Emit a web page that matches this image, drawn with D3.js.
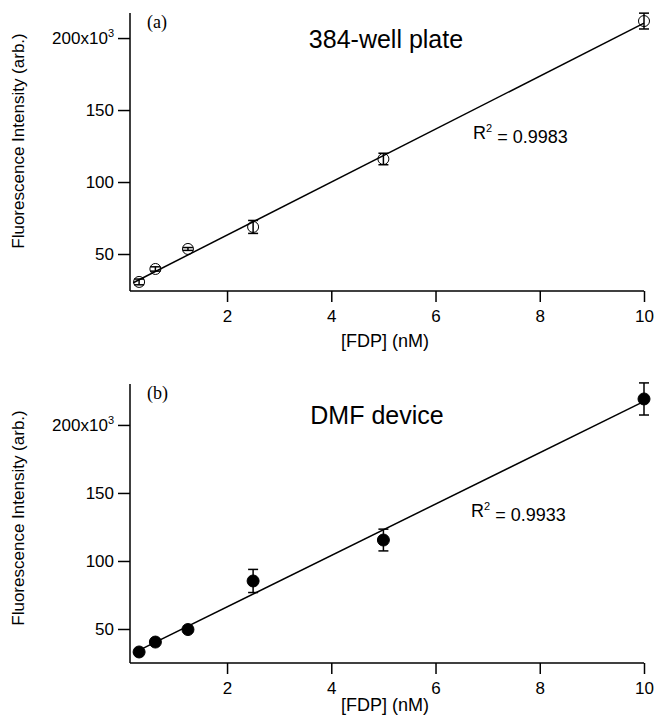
<!DOCTYPE html>
<html>
<head>
<meta charset="utf-8">
<script src="https://cdn.jsdelivr.net/npm/d3@7"></script>
<style>
  html, body { margin: 0; padding: 0; background: #fff; }
  svg text { font-family: "Liberation Sans", Arial, sans-serif; fill: #000; }
</style>
</head>
<body>
<svg id="chart" width="655" height="723"></svg>
<script>
// ---- data ----
const concentrations = [0.3125, 0.625, 1.25, 2.5, 5, 10];   // [FDP] (nM)
const plateValues   = [30.6, 39.6, 53.5, 68.8, 116.0, 211.8]; // x10^3
const plateErrors   = [2.0, 1.5, 1.0, 4.5, 4.0, 5.5];
const dmfValues     = [33.1, 40.4, 49.6, 85.3, 115.4, 219.1];
const dmfErrors     = [1.5, 1.0, 1.5, 8.5, 8.0, 11.8];
const xTicks = [2, 4, 6, 8, 10];
const yTicks = [50, 100, 150, 200];
const panelLabels = ["(a)", "(b)"];
const panelTitles = ["384-well plate", "DMF device"];
const r2Values = ["0.9983", "0.9933"];
const fitRange = [0.2, 10];

const svg = d3.select("#chart");

function linfit(xs, ys) {
  const n = xs.length;
  const mx = d3.mean(xs), my = d3.mean(ys);
  let sxy = 0, sxx = 0;
  for (let i = 0; i < n; i++) { sxy += (xs[i]-mx)*(ys[i]-my); sxx += (xs[i]-mx)**2; }
  const m = sxy / sxx;
  return { m, b: my - m*mx };
}

const panels = [
  { top: 13, bottom: 291, yDomain: [24.3, 217.4], values: plateValues, errors: plateErrors,
    filled: false, r: 5.5, label: panelLabels[0], title: panelTitles[0], r2: r2Values[0],
    labelPos: [147, 28], titlePos: [386, 48], r2Pos: [473, 139], yTitleY: 141, xTitleY: 347 },
  { top: 384, bottom: 663, yDomain: [25, 230.1], values: dmfValues, errors: dmfErrors,
    filled: true, r: 6, label: panelLabels[1], title: panelTitles[1], r2: r2Values[1],
    labelPos: [147, 399], titlePos: [377, 424], r2Pos: [471, 517], yTitleY: 518, xTitleY: 711 }
];

const left = 130, right = 644;
const tickFont = 17;

panels.forEach(p => {
  const x = d3.scaleLinear().domain([0.138, 10]).range([left, right]);
  const y = d3.scaleLinear().domain(p.yDomain).range([p.bottom, p.top]);
  const g = svg.append("g");

  // x axis
  const xa = g.append("g").attr("transform", `translate(0,${p.bottom})`)
    .call(d3.axisBottom(x).tickValues(xTicks).tickSize(11).tickPadding(8).tickFormat(d3.format("d")));
  xa.select(".domain").attr("d", `M${left},0H${right}`).attr("stroke-width", 1.5);
  xa.selectAll(".tick line").attr("stroke-width", 1.5);
  xa.selectAll("text").attr("font-size", tickFont).attr("font-family", "Liberation Sans, Arial, sans-serif");

  // y axis
  const ya = g.append("g").attr("transform", `translate(${left},0)`)
    .call(d3.axisLeft(y).tickValues(yTicks).tickSize(12).tickPadding(4).tickFormat(d => d === 200 ? "" : d));
  ya.select(".domain").attr("d", `M0,${p.top}V${p.bottom}`).attr("stroke-width", 1.5);
  ya.selectAll(".tick line").attr("stroke-width", 1.5);
  ya.selectAll("text").attr("font-size", tickFont).attr("font-family", "Liberation Sans, Arial, sans-serif");
  // 200x10^3 label
  const t200 = ya.selectAll(".tick").filter(d => d === 200).select("text");
  t200.append("tspan").text("200x10");
  t200.append("tspan").text("3").attr("font-size", 11).attr("dy", "-0.6em");

  // axis titles
  g.append("text").attr("x", (left + right) / 2 - 2).attr("y", p.xTitleY)
    .attr("text-anchor", "middle").attr("font-size", 18).text("[FDP] (nM)");
  g.append("text").attr("transform", `translate(24,${p.yTitleY}) rotate(-90)`)
    .attr("text-anchor", "middle").attr("font-size", 17).text("Fluorescence Intensity (arb.)");

  // fit line
  const fit = linfit(concentrations, p.values);
  g.append("line")
    .attr("x1", x(fitRange[0])).attr("y1", y(fit.m*fitRange[0] + fit.b))
    .attr("x2", x(fitRange[1])).attr("y2", y(fit.m*fitRange[1] + fit.b))
    .attr("stroke", "#000").attr("stroke-width", 1.5);

  // error bars
  const pts = concentrations.map((c, i) => ({ c, v: p.values[i], e: p.errors[i] }));
  const eb = g.append("g").attr("stroke", "#000").attr("stroke-width", 1.5);
  pts.forEach(d => {
    eb.append("line").attr("x1", x(d.c)).attr("x2", x(d.c)).attr("y1", y(d.v - d.e)).attr("y2", y(d.v + d.e));
    [d.v - d.e, d.v + d.e].forEach(v => {
      eb.append("line").attr("x1", x(d.c) - 5).attr("x2", x(d.c) + 5).attr("y1", y(v)).attr("y2", y(v));
    });
  });

  // markers
  g.append("g").selectAll("circle").data(pts).join("circle")
    .attr("cx", d => x(d.c)).attr("cy", d => y(d.v)).attr("r", p.r)
    .attr("fill", p.filled ? "#000" : "none")
    .attr("stroke", "#000").attr("stroke-width", 1);

  // texts
  g.append("text").attr("x", p.labelPos[0]).attr("y", p.labelPos[1])
    .style("font-family", "'Liberation Serif', 'Times New Roman', serif").attr("font-size", 18).text(p.label);
  g.append("text").attr("x", p.titlePos[0]).attr("y", p.titlePos[1])
    .attr("text-anchor", "middle").attr("font-size", 25).text(p.title);
  const r2 = g.append("text").attr("x", p.r2Pos[0]).attr("y", p.r2Pos[1]).attr("font-size", 18);
  r2.append("tspan").text("R");
  r2.append("tspan").text("2").attr("font-size", 11).attr("dy", "-0.6em");
  r2.append("tspan").text(" = " + p.r2).attr("dy", "0.6em");
});
</script>
</body>
</html>
